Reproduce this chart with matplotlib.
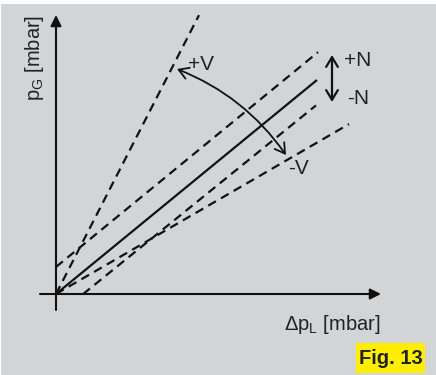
import matplotlib
matplotlib.use("Agg")
import matplotlib.pyplot as plt
from matplotlib.patches import Rectangle

# schematic units (origin of the diagram at 0, 0)
line_labels = ["+V", "+N", "nominal", "-N", "-V"]
slopes = [1.95, 0.82, 0.82, 0.81, 0.58]
intercepts = [0.0, 27.0, 0.0, -22.0, 0.0]
x_starts = [0.0, 0.0, 0.0, 27.0, 0.0]
x_ends = [143.0, 262.0, 261.0, 260.0, 293.0]

# rotation arrow between the +V and -V lines, and the shift arrow +N / -N
v_arrow_from = (121, 225)
v_arrow_to = (230, 139)
n_arrow_x = 276
n_arrow_top = 239
n_arrow_bottom = 192

x_axis_range = (-16, 325)
y_axis_range = (-16, 279)

plt.rcParams["font.family"] = ["Liberation Sans", "DejaVu Sans"]
plt.rcParams["mathtext.default"] = "regular"

fig = plt.figure(figsize=(4.36, 3.75), dpi=100)
fig.patch.set_facecolor("white")
fig.patches.append(Rectangle((1 / 436, 0), 1, 371 / 375, transform=fig.transFigure,
                             facecolor="#d3d4d6", edgecolor="none", zorder=-5))

ax = fig.add_axes([0, 0, 1, 1])
ax.set_facecolor("none")
ax.set_xlim(-56, 380)
ax.set_ylim(-81, 294)
ax.axis("off")

ink = "#111111"

# axes with arrow heads
ax.annotate("", xy=(x_axis_range[1], 0), xytext=(x_axis_range[0], 0),
            arrowprops=dict(arrowstyle="-|>", lw=1.5, color=ink, mutation_scale=16,
                            shrinkA=0, shrinkB=0))
ax.annotate("", xy=(0, y_axis_range[1]), xytext=(0, y_axis_range[0]),
            arrowprops=dict(arrowstyle="-|>", lw=1.5, color=ink, mutation_scale=16,
                            shrinkA=0, shrinkB=0))

for name, m, b, x0, x1 in zip(line_labels, slopes, intercepts, x_starts, x_ends):
    xs = [x0, x1]
    ys = [m * x0 + b, m * x1 + b]
    if name == "nominal":
        ax.plot(xs, ys, color=ink, lw=1.6, solid_capstyle="butt")
    else:
        ax.plot(xs, ys, color=ink, lw=1.6, linestyle=(0, (4, 2.6)), dash_capstyle="butt")

ax.annotate("", xy=v_arrow_to, xytext=v_arrow_from,
            arrowprops=dict(arrowstyle="<->,head_length=0.5,head_width=0.3", lw=1.3,
                            color=ink, mutation_scale=14, shrinkA=0, shrinkB=0,
                            connectionstyle="arc3,rad=-0.15"))
ax.annotate("", xy=(n_arrow_x, n_arrow_bottom), xytext=(n_arrow_x, n_arrow_top),
            arrowprops=dict(arrowstyle="<->,head_length=0.5,head_width=0.3", lw=1.6,
                            color=ink, mutation_scale=14, shrinkA=0, shrinkB=0))

label_kw = dict(fontsize=15, color="#222222", ha="center", va="center")
ax.text(145, 230, "+V", **label_kw)
ax.text(302, 234, "+N", **label_kw)
ax.text(302, 196, "-N", **label_kw)
ax.text(242, 126, "-V", **label_kw)

ax.text(-21, 236, "p$_{G}$ [mbar]", rotation=90, fontsize=14.5, color="#222222",
        ha="center", va="center")
ax.text(324, -36, "Δp$_{L}$ [mbar]", fontsize=14.5, color="#222222",
        ha="right", va="baseline")

fig.patches.append(Rectangle((356 / 436, 2 / 375), 69 / 436, 30 / 375,
                             transform=fig.transFigure, facecolor="#ffee00",
                             edgecolor="none", zorder=1))
fig.text(390.5 / 436, 17 / 375, "Fig. 13", fontsize=14.5, fontweight="bold",
         color="#222222", ha="center", va="center")

fig.savefig("out.png", dpi=100)
